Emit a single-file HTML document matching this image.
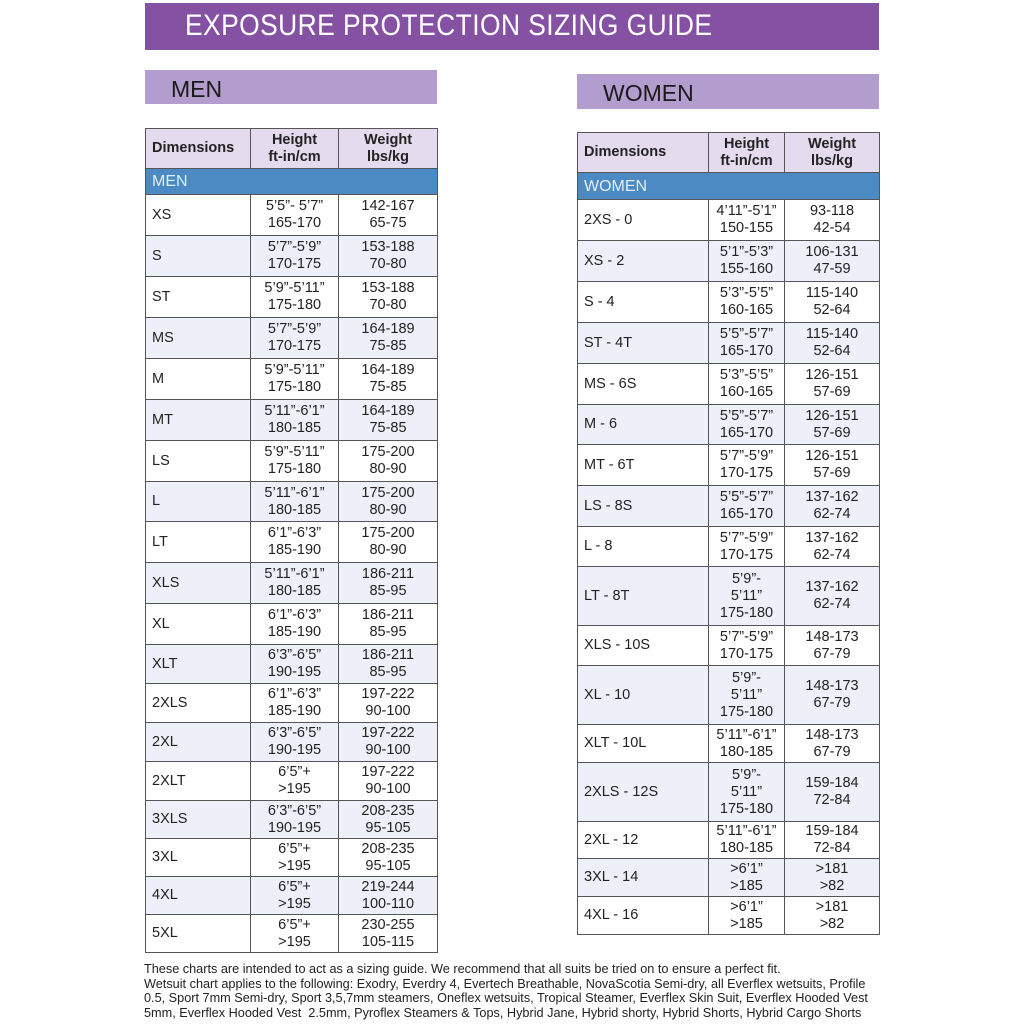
<!DOCTYPE html>
<html><head><meta charset="utf-8"><style>
body{margin:0;width:1024px;height:1024px;background:#fff;position:relative;font-family:"Liberation Sans",sans-serif;overflow:hidden}
.banner{position:absolute;left:145px;top:3px;width:734px;height:47px;background:#8552a3}
.banner span{position:absolute;left:40px;top:6px;color:#fff;font-size:30px;letter-spacing:0.5px;transform:scaleX(0.88);transform-origin:left;white-space:nowrap}
.sec{position:absolute;background:#b39dcf;color:#1a1a1a;font-size:23px}
.sec span{position:absolute;left:26px;top:6px}
table{position:absolute;border-collapse:collapse;table-layout:fixed;font-size:14.5px;color:#222}
td{border:1px solid #555;padding:0;line-height:17px;text-align:center;overflow:hidden}
td:first-child{text-align:left;padding-left:6px}
tr.h td{background:#e4dcee;font-weight:bold;color:#222;font-size:14.5px;line-height:17px}
tr.b td{background:#4b8ac3;color:#e3eefa;font-size:16px;text-align:left;padding-left:6px}
tr:nth-child(even):not(.h):not(.b) td{background:#edf0f8}
.note{position:absolute;left:144px;top:962px;font-size:12.7px;line-height:14.6px;color:#222;width:760px;white-space:nowrap}
</style></head><body>
<div class="banner"><span>EXPOSURE PROTECTION SIZING GUIDE</span></div>
<div class="sec" style="left:145px;top:70px;width:292px;height:34px"><span>MEN</span></div>
<div class="sec" style="left:577px;top:74px;width:302px;height:35px"><span>WOMEN</span></div>

<table style="left:145px;top:128px;width:292px">
<colgroup><col style="width:105px"><col style="width:88px"><col style="width:99px"></colgroup>
<tr class="h" style="height:40px"><td>Dimensions</td><td>Height<br>ft-in/cm</td><td>Weight<br>lbs/kg</td></tr>
<tr class="b" style="height:26px"><td colspan="3">MEN</td></tr>
<tr style="height:41px"><td>XS</td><td>5’5”- 5’7”<br>165-170</td><td>142-167<br>65-75</td></tr>
<tr style="height:41px"><td>S</td><td>5’7”-5’9”<br>170-175</td><td>153-188<br>70-80</td></tr>
<tr style="height:41px"><td>ST</td><td>5’9”-5’11”<br>175-180</td><td>153-188<br>70-80</td></tr>
<tr style="height:41px"><td>MS</td><td>5’7”-5’9”<br>170-175</td><td>164-189<br>75-85</td></tr>
<tr style="height:41px"><td>M</td><td>5’9”-5’11”<br>175-180</td><td>164-189<br>75-85</td></tr>
<tr style="height:41px"><td>MT</td><td>5’11”-6’1”<br>180-185</td><td>164-189<br>75-85</td></tr>
<tr style="height:41px"><td>LS</td><td>5’9”-5’11”<br>175-180</td><td>175-200<br>80-90</td></tr>
<tr style="height:40px"><td>L</td><td>5’11”-6’1”<br>180-185</td><td>175-200<br>80-90</td></tr>
<tr style="height:41px"><td>LT</td><td>6’1”-6’3”<br>185-190</td><td>175-200<br>80-90</td></tr>
<tr style="height:41px"><td>XLS</td><td>5’11”-6’1”<br>180-185</td><td>186-211<br>85-95</td></tr>
<tr style="height:41px"><td>XL</td><td>6’1”-6’3”<br>185-190</td><td>186-211<br>85-95</td></tr>
<tr style="height:39px"><td>XLT</td><td>6’3”-6’5”<br>190-195</td><td>186-211<br>85-95</td></tr>
<tr style="height:39px"><td>2XLS</td><td>6’1”-6’3”<br>185-190</td><td>197-222<br>90-100</td></tr>
<tr style="height:39px"><td>2XL</td><td>6’3”-6’5”<br>190-195</td><td>197-222<br>90-100</td></tr>
<tr style="height:39px"><td>2XLT</td><td>6’5”+<br>&gt;195</td><td>197-222<br>90-100</td></tr>
<tr style="height:38px"><td>3XLS</td><td>6’3”-6’5”<br>190-195</td><td>208-235<br>95-105</td></tr>
<tr style="height:38px"><td>3XL</td><td>6’5”+<br>&gt;195</td><td>208-235<br>95-105</td></tr>
<tr style="height:38px"><td>4XL</td><td>6’5”+<br>&gt;195</td><td>219-244<br>100-110</td></tr>
<tr style="height:38px"><td>5XL</td><td>6’5”+<br>&gt;195</td><td>230-255<br>105-115</td></tr>
</table>

<table style="left:577px;top:132px;width:302px">
<colgroup><col style="width:131px"><col style="width:76px"><col style="width:95px"></colgroup>
<tr class="h" style="height:40px"><td>Dimensions</td><td>Height<br>ft-in/cm</td><td>Weight<br>lbs/kg</td></tr>
<tr class="b" style="height:27px"><td colspan="3">WOMEN</td></tr>
<tr style="height:41px"><td>2XS - 0</td><td>4’11”-5’1”<br>150-155</td><td>93-118<br>42-54</td></tr>
<tr style="height:41px"><td>XS - 2</td><td>5’1”-5’3”<br>155-160</td><td>106-131<br>47-59</td></tr>
<tr style="height:41px"><td>S - 4</td><td>5’3”-5’5”<br>160-165</td><td>115-140<br>52-64</td></tr>
<tr style="height:41px"><td>ST - 4T</td><td>5’5”-5’7”<br>165-170</td><td>115-140<br>52-64</td></tr>
<tr style="height:41px"><td>MS - 6S</td><td>5’3”-5’5”<br>160-165</td><td>126-151<br>57-69</td></tr>
<tr style="height:40px"><td>M - 6</td><td>5’5”-5’7”<br>165-170</td><td>126-151<br>57-69</td></tr>
<tr style="height:41px"><td>MT - 6T</td><td>5’7”-5’9”<br>170-175</td><td>126-151<br>57-69</td></tr>
<tr style="height:41px"><td>LS - 8S</td><td>5’5”-5’7”<br>165-170</td><td>137-162<br>62-74</td></tr>
<tr style="height:40px"><td>L - 8</td><td>5’7”-5’9”<br>170-175</td><td>137-162<br>62-74</td></tr>
<tr style="height:59px"><td>LT - 8T</td><td>5’9”-<br>5’11”<br>175-180</td><td>137-162<br>62-74</td></tr>
<tr style="height:40px"><td>XLS - 10S</td><td>5’7”-5’9”<br>170-175</td><td>148-173<br>67-79</td></tr>
<tr style="height:59px"><td>XL - 10</td><td>5’9”-<br>5’11”<br>175-180</td><td>148-173<br>67-79</td></tr>
<tr style="height:38px"><td>XLT - 10L</td><td>5’11”-6’1”<br>180-185</td><td>148-173<br>67-79</td></tr>
<tr style="height:59px"><td>2XLS - 12S</td><td>5’9”-<br>5’11”<br>175-180</td><td>159-184<br>72-84</td></tr>
<tr style="height:37px"><td>2XL - 12</td><td>5’11”-6’1”<br>180-185</td><td>159-184<br>72-84</td></tr>
<tr style="height:38px"><td>3XL - 14</td><td>&gt;6’1”<br>&gt;185</td><td>&gt;181<br>&gt;82</td></tr>
<tr style="height:38px"><td>4XL - 16</td><td>&gt;6’1”<br>&gt;185</td><td>&gt;181<br>&gt;82</td></tr>
</table>

<div class="note">These charts are intended to act as a sizing guide. We recommend that all suits be tried on to ensure a perfect fit.<br>Wetsuit chart applies to the following: Exodry, Everdry 4, Evertech Breathable, NovaScotia Semi-dry, all Everflex wetsuits, Profile<br>0.5, Sport 7mm Semi-dry, Sport 3,5,7mm steamers, Oneflex wetsuits, Tropical Steamer, Everflex Skin Suit, Everflex Hooded Vest<br>5mm, Everflex Hooded Vest&nbsp; 2.5mm, Pyroflex Steamers &amp; Tops, Hybrid Jane, Hybrid shorty, Hybrid Shorts, Hybrid Cargo Shorts</div>
</body></html>
